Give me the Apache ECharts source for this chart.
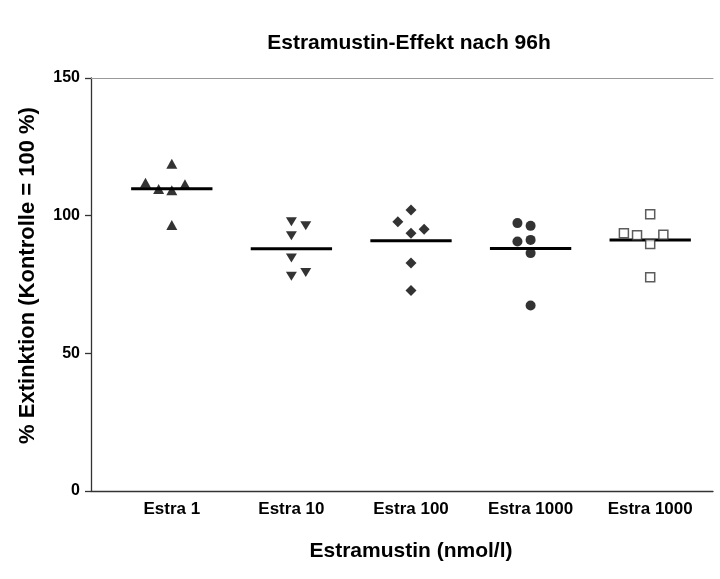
<!DOCTYPE html>
<html>
<head>
<meta charset="utf-8">
<script src="https://cdn.jsdelivr.net/npm/echarts@6/dist/echarts.min.js"></script>
<style>
html,body{margin:0;padding:0;background:#fff;}
#chart{width:720px;height:579px;}
</style>
</head>
<body>
<div id="chart"></div>
<script>
const categories = ['Estra 1', 'Estra 10', 'Estra 100', 'Estra 1000', 'Estra 1000'];
const yTicks = [0, 50, 100, 150];

const estra1 = [118.9, 112.0, 109.7, 109.2, 111.4, 96.6];
const estra1X = [0, -0.22, -0.11, 0, 0.11, 0];
const estra10 = [97.8, 96.3, 92.7, 84.6, 78.0, 79.4];
const estra10X = [1, 1.12, 1, 1, 1, 1.12];
const estra100 = [102.1, 97.8, 93.6, 95.1, 82.8, 72.8];
const estra100X = [2, 1.89, 2, 2.11, 2, 2];
const estra1000a = [97.3, 96.3, 90.6, 91.2, 86.4, 67.4];
const estra1000aX = [2.89, 3, 2.89, 3, 3, 3];
const estra1000b = [100.5, 93.6, 92.9, 89.7, 93.1, 77.6];
const estra1000bX = [4, 3.78, 3.89, 4, 4.11, 4];
const means = [109.8, 88.0, 90.9, 88.1, 91.2];

function pts(xs, ys) { return ys.map((v, i) => [xs[i], v]); }

const font = 'Arial, "Liberation Sans", Helvetica, sans-serif';
const chart = echarts.init(document.getElementById('chart'), null, {renderer: 'canvas'});

const groups = [
  {data: pts(estra1X, estra1), symbol: 'triangle', size: [11, 10], rotate: 0, empty: false},
  {data: pts(estra10X, estra10), symbol: 'triangle', size: [11, 9], rotate: 180, empty: false},
  {data: pts(estra100X, estra100), symbol: 'diamond', size: [11, 11], rotate: 0, empty: false},
  {data: pts(estra1000aX, estra1000a), symbol: 'circle', size: 10, rotate: 0, empty: false},
  {data: pts(estra1000bX, estra1000b), symbol: 'rect', size: 9, rotate: 0, empty: true}
];

const series = groups.map(g => ({
  type: 'scatter',
  xAxisIndex: 3,
  yAxisIndex: 1,
  symbol: g.symbol,
  symbolSize: g.size,
  symbolRotate: g.rotate,
  data: g.data,
  itemStyle: g.empty ? {color: '#fff', borderColor: '#333', borderWidth: 1.5} : {color: '#000'},
  silent: true
}));

series.push({
  type: 'custom',
  xAxisIndex: 3,
  yAxisIndex: 1,
  silent: true,
  data: means.map((m, i) => [i, m]),
  renderItem: function (params, api) {
    const a = api.coord([api.value(0) - 0.34, api.value(1)]);
    const b = api.coord([api.value(0) + 0.34, api.value(1)]);
    return {type: 'line', shape: {x1: a[0], y1: a[1], x2: b[0], y2: b[1]}, style: {stroke: '#000', lineWidth: 3}};
  }
});

const option = {
  animation: false,
  backgroundColor: '#fff',
  title: {
    text: 'Estramustin-Effekt nach 96h',
    left: 404,
    textAlign: 'center',
    top: 28,
    textStyle: {fontFamily: font, fontSize: 21, fontWeight: 'bold', color: '#000'}
  },
  grid: [
    {left: 91, right: 7, top: 78, bottom: 88},
    {left: 112, right: 10, top: 78, bottom: 88}
  ],
  xAxis: [
    {type: 'value', gridIndex: 0, min: 0, max: 1, position: 'bottom',
      axisLine: {show: true, lineStyle: {color: '#333', width: 1.3}},
      axisTick: {show: false}, axisLabel: {show: false}, splitLine: {show: false}},
    {type: 'value', gridIndex: 0, min: 0, max: 1, position: 'top',
      axisLine: {show: true, lineStyle: {color: '#999', width: 1}},
      axisTick: {show: false}, axisLabel: {show: false}, splitLine: {show: false}},
    {type: 'category', gridIndex: 1, data: categories, position: 'bottom',
      axisLine: {show: false}, axisTick: {show: false}, splitLine: {show: false},
      axisLabel: {interval: 0, margin: 10, fontFamily: font, fontSize: 17, fontWeight: 'bold', color: '#000'},
      name: 'Estramustin (nmol/l)', nameLocation: 'middle', nameGap: 50,
      nameTextStyle: {fontFamily: font, fontSize: 21, fontWeight: 'bold', color: '#000'}},
    {type: 'value', gridIndex: 1, min: -0.5, max: 4.5, position: 'top', show: false}
  ],
  yAxis: [
    {type: 'value', gridIndex: 0, min: yTicks[0], max: yTicks[yTicks.length - 1], interval: 50,
      axisLine: {show: true, lineStyle: {color: '#333', width: 1.3}},
      axisTick: {show: true, inside: false, length: 6, lineStyle: {color: '#333', width: 1.3}},
      splitLine: {show: false},
      axisLabel: {margin: 11, fontFamily: font, fontSize: 16, fontWeight: 'bold', color: '#000'},
      name: '% Extinktion (Kontrolle = 100 %)', nameLocation: 'middle', nameGap: 52,
      nameTextStyle: {fontFamily: font, fontSize: 22, fontWeight: 'bold', color: '#000', padding: [0, 0, 0, 18]}},
    {type: 'value', gridIndex: 1, min: 0, max: 150, show: false}
  ],
  series: series
};
chart.setOption(option);
</script>
</body>
</html>
